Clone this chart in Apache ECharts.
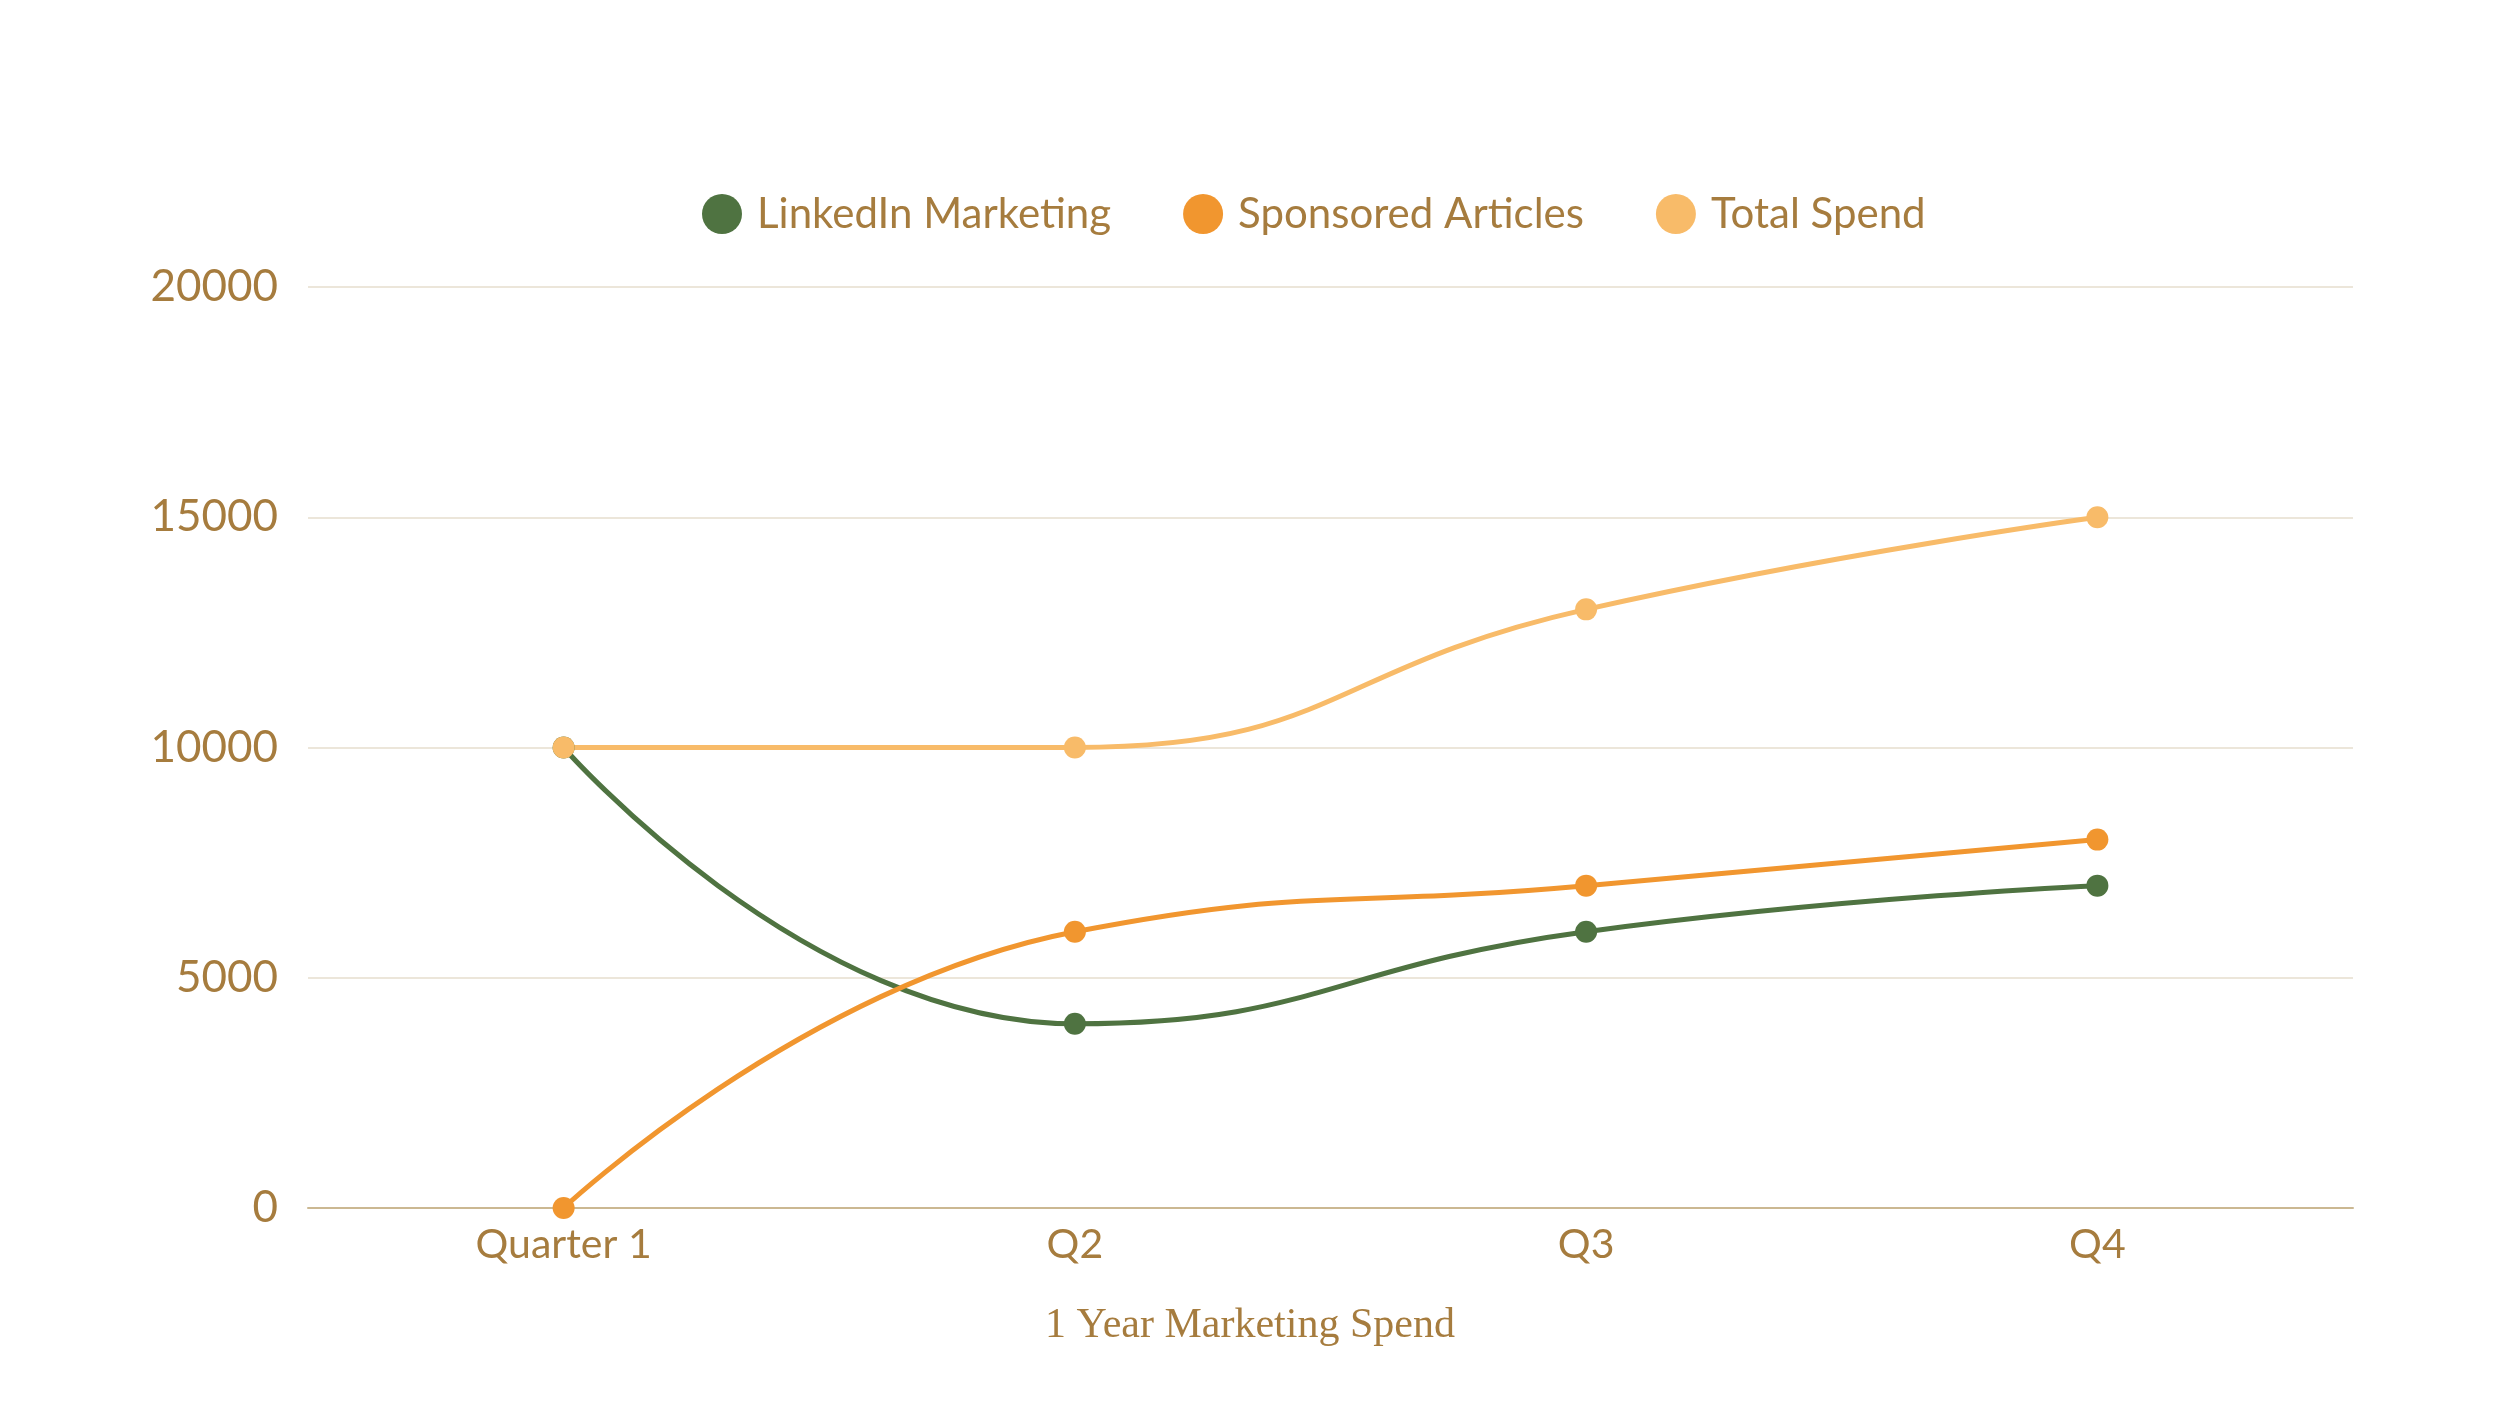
<!DOCTYPE html>
<html>
<head>
<meta charset="utf-8">
<style>
  html, body { margin: 0; padding: 0; background: #fff; }
  #chart { width: 2500px; height: 1406px; }
</style>
<script src="https://cdn.jsdelivr.net/npm/echarts@6/dist/echarts.min.js"></script>
</head>
<body>
<div id="chart"></div>
<script>
// quarters on the x axis
const quarters = ['Quarter 1', 'Q2', 'Q3', 'Q4']
// series values
const linkedin = [10000, 4000, 6000, 7000]
const sponsored = [0, 6000, 7000, 8000]
const totalSpend = [10000, 10000, 13000, 15000]

const textColor = '#a67c3e'
const sansFont = 'Lato'

const chart = echarts.init(document.getElementById('chart'))

const makeLine = (name, data, color) => ({
  name: name,
  type: 'line',
  data: data,
  smooth: true,
  symbol: 'circle',
  symbolSize: 22,
  lineStyle: { width: 5, color: color },
  itemStyle: { color: color }
})

const option = {
  backgroundColor: '#ffffff',
  animation: false,
  // axis caption sits centred on the page, not on the grid
  title: {
    text: '1 Year Marketing Spend',
    left: 'center',
    top: 1300,
    textStyle: { color: textColor, fontSize: 42, fontWeight: 'normal', fontFamily: 'Liberation Serif' }
  },
  legend: {
    top: 188,
    left: 697,
    itemWidth: 40,
    itemHeight: 40,
    itemGap: 72,
    icon: 'circle',
    textStyle: { color: textColor, fontSize: 42, fontFamily: sansFont, padding: [0, 0, 0, 10] }
  },
  grid: {
    left: 308,
    right: 147,
    top: 287,
    bottom: 198
  },
  xAxis: {
    type: 'category',
    data: quarters,
    boundaryGap: true,
    axisLine: { lineStyle: { color: '#cbb892', width: 2 } },
    axisTick: { show: false },
    axisLabel: { color: textColor, fontSize: 41, fontFamily: sansFont, margin: 16 }
  },
  yAxis: {
    type: 'value',
    min: 0,
    max: 20000,
    interval: 5000,
    axisLine: { show: false },
    axisTick: { show: false },
    axisLabel: { color: textColor, fontSize: 44, fontFamily: sansFont, margin: 30, formatter: v => String(v) },
    splitLine: { lineStyle: { color: '#ece6da', width: 2 } }
  },
  series: [
    makeLine('LinkedIn Marketing', linkedin, '#4f7341'),
    makeLine('Sponsored Articles', sponsored, '#f1962f'),
    makeLine('Total Spend', totalSpend, '#f8bb69')
  ]
}

chart.setOption(option)
</script>
</body>
</html>
